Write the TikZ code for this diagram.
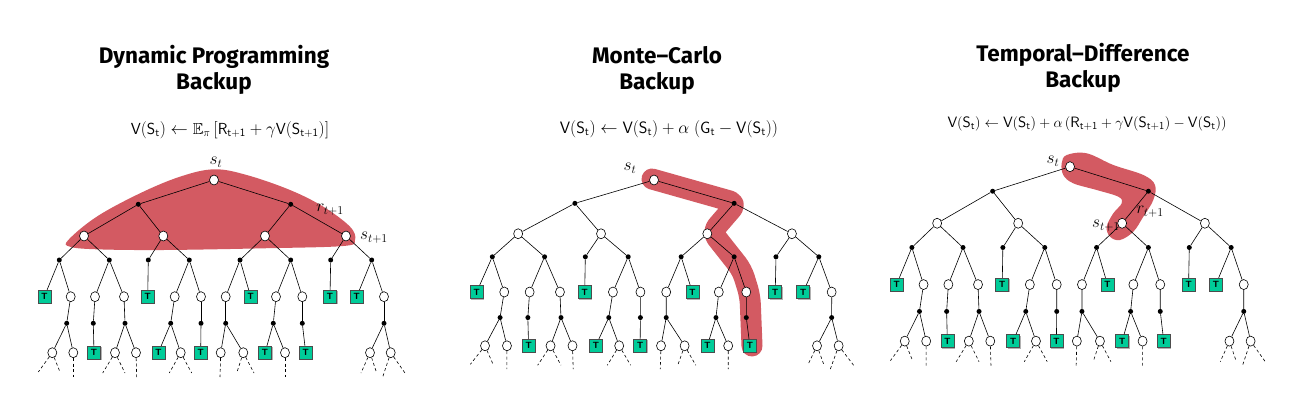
\documentclass[tikz,border=0pt]{standalone}
\usepackage{amsmath,amssymb}
\usepackage{fontspec}
\newfontfamily\ttlfont{Fira Sans}
\usetikzlibrary{shapes.geometric,shadows}
\definecolor{tealT}{HTML}{00CC99}
\definecolor{blobred}{HTML}{D35A62}
\tikzset{
 st/.style={ellipse, draw, fill=white, minimum width=9pt, minimum height=10pt, inner sep=0pt, line width=0.6pt},
 ac/.style={circle, fill=black, minimum size=5pt, inner sep=0pt},
 tm/.style={rectangle, draw=black!70, fill=tealT, minimum size=13pt, inner sep=0pt, line width=0.6pt, font=\sffamily\bfseries\fontsize{9}{9}\selectfont, execute at begin node={T}, drop shadow={shadow xshift=1pt,shadow yshift=-1pt,fill=black!30,opacity=1}},
 lnk/.style={line width=0.6pt},
 dsh/.style={line width=0.6pt, dash pattern=on 3pt off 2.5pt},
 ttl/.style={font=\ttlfont\bfseries\fontsize{22.5}{26}\selectfont, align=center},
 eq/.style={font=\fontsize{16}{18}\selectfont},
 lbl/.style={font=\fontsize{18}{18}\selectfont, inner sep=0pt},
 blobline/.style={draw=blobred, line cap=round, line join=round, rounded corners=8pt}
}
\newcommand\bktree[1]{%
 \node[st] (#1r) at (0,0) {};
 \node[ac] (#1a1) at (-75.7,24.3) {};
 \node[ac] (#1a2) at (76.7,24.3) {};
 \foreach \n/\x in {1/-130,2/-50.7,3/51,4/132} \node[st] (#1s\n) at (\x,56) {};
 \foreach \n/\x in {1/-154.7,2/-104.7,3/-65.7,4/-24.7,5/26,6/76.7,7/116.7,8/157.7} \node[ac] (#1b\n) at (\x,80) {};
 \foreach \n/\x/\k in {1/-169.7/tm,2/-143.3/st,3/-119/st,4/-90/st,5/-66.3/tm,6/-39.3/st,7/-13/st,8/11.7/st,9/36.7/tm,10/62/st,11/88.3/st,12/116/tm,13/142.7/tm,14/170/st} \node[\k] (#1c\n) at (\x,116.7) {};
 \foreach \n/\x in {1/-147.3,2/-120.7,3/-89,4/-43.3,5/-13,6/11.7,7/59.3,8/88.3,9/170} \node[ac] (#1d\n) at (\x,143.3) {};
 \foreach \n/\x/\k in {1/-161.7/st,2/-140.7/st,3/-120/tm,4/-99/st,5/-78/st,6/-55.7/tm,7/-33.3/st,8/-13.3/tm,9/6.7/st,10/29.3/st,11/51/tm,12/71/st,13/91.7/tm,14/156/st,15/176.7/st} \node[\k] (#1e\n) at (\x,172.7) {};
 \foreach \n/\x/\y in {1/-175.7/192,2/-154/192,3/-140.7/197,4/-111.3/193,5/-89/193,6/-77.3/197,7/-44.7/193,8/-22.3/193,9/6/197,10/22.7/193,11/40/193,12/71/197,13/147/193,14/162.7/193,15/168.7/197,16/191/193} \coordinate (#1f\n) at (\x,\y);
 \foreach \p/\c in {r/a1,r/a2,a1/s1,a1/s2,a2/s3,a2/s4,s1/b1,s1/b2,s2/b3,s2/b4,s3/b5,s3/b6,s4/b7,s4/b8,b1/c1,b1/c2,b2/c3,b2/c4,b3/c5,b4/c6,b4/c7,b5/c8,b5/c9,b6/c10,b6/c11,b7/c12,b8/c13,b8/c14,c2/d1,c3/d2,c4/d3,c6/d4,c7/d5,c8/d6,c10/d7,c11/d8,c14/d9,d1/e1,d1/e2,d2/e3,d3/e4,d3/e5,d4/e6,d4/e7,d5/e8,d6/e9,d6/e10,d7/e11,d7/e12,d8/e13,d9/e14,d9/e15} \draw[lnk] (#1\p) -- (#1\c);
 \foreach \p/\c in {e1/f1,e1/f2,e2/f3,e4/f4,e4/f5,e5/f6,e7/f7,e7/f8,e9/f9,e10/f10,e10/f11,e12/f12,e14/f13,e14/f14,e15/f15,e15/f16} \draw[dsh] (#1\p) -- (#1\c);
}
\begin{document}
\begin{tikzpicture}[x=1pt,y=-1pt]
\useasboundingbox[fill=white] (0,0) rectangle (1296,407);
% blobs
\fill[blobred] plot[smooth cycle, tension=0.6] coordinates {(68.3,240) (96.7,216.7) (140,193.3) (180,176.7) (214,169.3) (246.7,175) (290,190) (323.3,206.7) (350,226.7) (355,240) (343.3,246) (263.3,248.3) (163.3,250) (96.7,249.3) (70,246.7)};
\draw[blobline, line width=21pt] (652,179) -- (737,203) -- (712,232) -- (742,270) -- (750,296) -- (752,346);
\fill[blobred] plot[smooth cycle, tension=0.6] coordinates {(1061.7,163.3) (1066.7,155) (1086.7,153.3) (1113.3,165) (1143.3,175) (1155,185) (1153.3,200) (1143.3,216.7) (1133.3,231.7) (1120,240) (1110,236.7) (1106.7,226.7) (1113.3,213.3) (1121.7,203.3) (1118.3,196.7) (1096.7,190) (1073.3,183.3) (1063.3,175)};
% trees
\begin{scope}[shift={(214,180)}] \bktree{dp} \end{scope}
\begin{scope}[shift={(654,180)}, xscale=1.045, yscale=0.96] \bktree{mc} \end{scope}
\begin{scope}[shift={(1070,166.7)}, xscale=1.022, yscale=1.01] \bktree{td} \end{scope}
% titles
\node[ttl] (dpt) at (214,70) {Dynamic Programming\\Backup};
\node[ttl] (mct) at (657,70) {Monte–Carlo\\Backup};
\node[ttl] (tdt) at (1083,68) {Temporal–Difference\\Backup};
% formulas
\node[eq] (dpe) at (230,130) {$\mathsf{V}(\mathsf{S_t}) \leftarrow \mathbb{E}_\pi\left[\mathsf{R_{t+1}} + \gamma \mathsf{V}(\mathsf{S_{t+1}})\right]$};
\node[eq, font=\fontsize{16.5}{18}\selectfont] (mce) at (669,129) {$\mathsf{V}(\mathsf{S_t}) \leftarrow \mathsf{V}(\mathsf{S_t}) + \alpha\;(\mathsf{G_t} - \mathsf{V}(\mathsf{S_t}))$};
\node[eq, font=\fontsize{15}{17}\selectfont] (tde) at (1087,124) {$\mathsf{V}(\mathsf{S_t}) \leftarrow \mathsf{V}(\mathsf{S_t}) + \alpha\,(\mathsf{R_{t+1}} + \gamma\mathsf{V}(\mathsf{S_{t+1}}) - \mathsf{V}(\mathsf{S_t}))$};
% labels
\node[lbl] (dpls) at (216,162) {$s_t$};
\node[lbl] (dplr) at (330,210) {$r_{t+1}$};
\node[lbl] (dpln) at (374,238) {$s_{t+1}$};
\node[lbl] (mcls) at (630,168) {$s_t$};
\node[lbl] (tdls) at (1053,161) {$s_t$};
\node[lbl] (tdlr) at (1150,212) {$r_{t+1}$};
\node[lbl] (tdln) at (1106,226) {$s_{t+1}$};
\end{tikzpicture}
\end{document}
